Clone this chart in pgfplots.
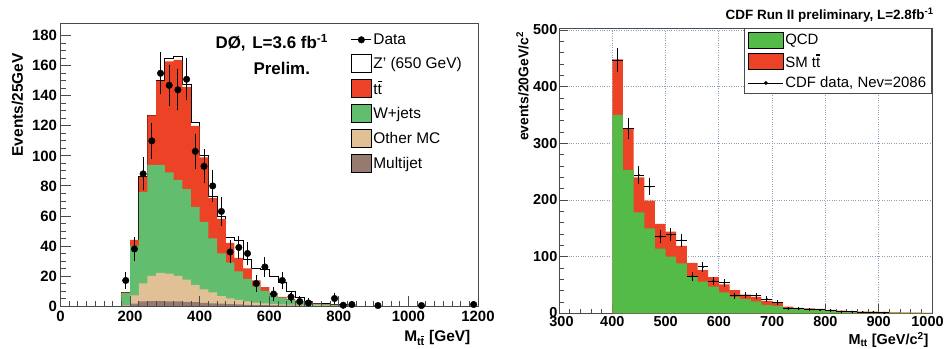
\documentclass[border=0pt]{standalone}
\usepackage{fontspec}
\setmainfont{Liberation Sans}
\usepackage{pgfplots}
\usepackage{pgfplotstable}
\pgfplotsset{compat=1.18}

\definecolor{ttred}{RGB}{236,66,38}
\definecolor{wgreen}{RGB}{98,190,110}
\definecolor{omctan}{RGB}{226,192,150}
\definecolor{mjbrown}{RGB}{150,122,112}
\definecolor{qcdgreen}{RGB}{84,186,72}
\definecolor{gridc}{RGB}{140,160,185}
\definecolor{framec}{RGB}{70,75,80}

\newcommand{\tbar}{\rlap{\hspace{0.01em}\raisebox{0.82em}{\rule{0.27em}{0.07em}}}t}

\pgfplotsset{
  lbox/.style={legend image code/.code={\draw[##1] (0bp,-9bp) rectangle (20bp,9bp);}},
  rbox/.style={legend image code/.code={\draw[##1] (0bp,-8bp) rectangle (35bp,8bp);}},
}

% D0 stack (cumulative tops), left bin edges, 25 GeV bins
\pgfplotstableread{
lo   mj   omc  wj   tt   zp
175  0.3  0.5  8.5  9    9
200  1.5  7    40   44   44
225  3    15   76   86   86
250  3.2  20   94   127  127
275  3.2  22   94   150  150
300  3    21.5 89   163  165
325  3    20   84   164  166
350  2.8  17.5 78   146  147.5
375  2.5  14   66   120  122
400  2    11   56   99   100
425  1.8  9    45   72   73
450  1.5  6.5  35   58   59.5
475  1.2  5    29   42   46
500  1    4    23   32   44
525  0.8  3    18   25   31
550  0.6  2.3  13   17   25
575  0.5  1.8  10   12.5 24.5
600  0.4  1.4  7.5  8.5  20
625  0.3  1.1  5.5  6    15.5
650  0.2  0.9  4    4.5  10
675  0.2  0.7  3    3.2  5.5
700  0.1  0.6  2    2.2  3
725  0.1  0.5  1.4  1.6  2
750  0.1  0.4  1    1.2  1.4
775  0.1  0.3  0.8  0.9  1
800  0.1  0.3  0.6  0.7  0.8
825  0.05 0.2  0.4  0.5  0.5
850  0    0    0    0    0
}\dzstack

\pgfplotstableread{
x      y    e
187.5  17   4.1
212.5  38   6.2
237.5  88   9.4
262.5  110  10.5
287.5  155  12.4
312.5  147  12.1
337.5  144  12
362.5  151  12.3
387.5  103  10.1
412.5  93   9.6
437.5  80   8.9
462.5  63   7.9
487.5  36   6
512.5  39   6.2
537.5  35   5.9
562.5  15   3.9
587.5  26   5.1
612.5  8    2.8
637.5  17   4.1
662.5  6    2.4
687.5  3    1.7
712.5  2    1.4
787.5  5    2.2
812.5  0.5  0.5
837.5  1    1
912.5  0.3  0.3
1037.5 0.3  0.3
1187.5 1    1
}\dzdata

% CDF stack, 20 GeV bins
\pgfplotstableread{
lo    qcd   tot
400   350   448
420   253   327
440   178   240
460   150   199
480   114   158
500   100   144
520   88    119
540   65    89
560   56    76
580   47    64
600   37    51
620   29    41
640   25    33
660   21    29
680   15    22
700   13    18
720   9     12
740   7.6   9.4
760   7     8.8
780   6.3   7.6
800   4.7   6
820   3.5   4.7
840   2.8   3.5
860   2.3   3
880   2     2.8
900   1.6   2.3
920   1.2   1.8
940   1     1.4
960   0.8   1.1
980   0.6   0.9
1000  0     0
}\cdfstack

\pgfplotstableread{
x    y    ex  ey
410  447  10  21
430  326  10  18
450  244  10  15.6
470  223  10  15
490  135  10  11.6
510  139  10  11.8
530  129  10  11.4
550  65   10  8
570  82   10  9
590  57   10  7.5
610  54   10  7.3
630  31   10  5.6
650  32   10  5.7
670  31   10  5.6
690  25   10  5
710  19   10  4.4
730  9    10  3
750  8    10  2.8
770  7    10  2.6
790  6    10  2.4
810  5    10  2.2
830  3    10  1.7
850  3    10  1.7
870  2    10  1.4
890  2    10  1.4
910  1    10  1
}\cdfdata

\begin{document}
\begin{tikzpicture}
% ---------------- Left: D0 ----------------
\begin{axis}[
  at={(60.5bp,43bp)}, anchor=south west,
  width=417.5bp, height=283bp, scale only axis,
  xmin=0, xmax=1200, ymin=0, ymax=188.5,
  xtick={0,200,...,1200}, ytick={0,20,...,180},
  minor x tick num=7, minor y tick num=3,
  tick pos=left, tick align=inside,
  major tick length=10bp, minor tick length=5bp,
  tick style={framec, line width=0.8pt},
  axis line style={framec, line width=0.9pt},
  axis on top,
  /pgf/number format/assume math mode=true,
  /pgf/number format/1000 sep={},
  tick label style={font=\bfseries\fontsize{15}{15}\selectfont},
  xticklabel style={yshift=-2bp},
  xlabel={M\textsubscript{t\tbar} [GeV]},
  xlabel style={at={(rel axis cs:0.99,-0.113)}, anchor=east, font=\bfseries\fontsize{15.5}{16}\selectfont},
  ylabel={Events/25GeV},
  ylabel style={at={(rel axis cs:-0.103,0.905)}, anchor=east, font=\bfseries\fontsize{15.5}{16}\selectfont},
  legend cell align=left,
  legend style={at={(rel axis cs:0.695,0.968)}, anchor=north west, draw=none, fill=none,
    font=\fontsize{15.5}{16}\selectfont, row sep=6.5bp, inner sep=0pt,
    nodes={inner sep=1.5bp}},
]
\addlegendimage{legend image code/.code={\draw[black, line width=1pt] (0bp,0bp) -- (20bp,0bp); \fill[black] (10bp,0bp) circle (3.3bp);}}
\addlegendentry{Data}
\addlegendimage{lbox, draw=black, fill=white, line width=1pt}
\addlegendentry{Z' (650 GeV)}
\addlegendimage{lbox, draw=none, fill=ttred}
\addlegendentry{t\tbar}
\addlegendimage{lbox, draw=none, fill=wgreen}
\addlegendentry{W+jets}
\addlegendimage{lbox, draw=none, fill=omctan}
\addlegendentry{Other MC}
\addlegendimage{lbox, draw=none, fill=mjbrown}
\addlegendentry{Multijet}

\addplot[forget plot, const plot mark left, fill=white, draw=black, line width=0.8pt] table[x=lo, y=zp]{\dzstack} \closedcycle;
\addplot[forget plot, const plot mark left, fill=ttred, draw=none] table[x=lo, y=tt]{\dzstack} \closedcycle;
\addplot[forget plot, const plot mark left, fill=wgreen, draw=none] table[x=lo, y=wj]{\dzstack} \closedcycle;
\addplot[forget plot, const plot mark left, fill=omctan, draw=none] table[x=lo, y=omc]{\dzstack} \closedcycle;
\addplot[forget plot, const plot mark left, fill=mjbrown, draw=none] table[x=lo, y=mj]{\dzstack} \closedcycle;
\addplot[forget plot, only marks, mark=*, mark size=3.3pt, black,
  error bars/.cd, y dir=both, y explicit, error mark=-,
  error mark options={black, mark size=2.5pt, line width=0.9pt},
  error bar style={black, line width=1pt}]
  table[x=x, y=y, y error=e]{\dzdata};
\end{axis}

% ---------------- Right: CDF ----------------
\begin{axis}[
  at={(559bp,35.7bp)}, anchor=south west,
  width=373bp, height=285bp, scale only axis,
  xmin=300, xmax=1000, ymin=0, ymax=503,
  xtick={300,400,...,1000}, ytick={0,100,...,500},
  xticklabels={{\hspace*{5bp}300},400,500,600,700,800,900,{\hspace*{-9bp}1000}},
  yticklabels={{\raisebox{2bp}{0}},100,200,300,400,500},
  minor x tick num=4, minor y tick num=4,
  tick pos=left, tick align=inside,
  major tick length=9bp, minor tick length=4.5bp,
  tick style={framec, line width=0.8pt},
  axis line style={framec, line width=0.9pt},
  grid=major, major grid style={dotted, gridc, line width=0.8pt},
  /pgf/number format/assume math mode=true,
  /pgf/number format/1000 sep={},
  tick label style={font=\bfseries\fontsize{14.5}{15}\selectfont},
  yticklabel style={inner xsep=1.5bp},
  xticklabel style={inner ysep=3bp},
  xlabel={M\textsubscript{tt} [GeV/c\textsuperscript{2}]},
  xlabel style={at={(rel axis cs:1,-0.094)}, anchor=east, font=\bfseries\fontsize{14.5}{15}\selectfont},
  ylabel={events/20GeV/c\textsuperscript{2}},
  ylabel style={at={(rel axis cs:-0.098,1.0)}, anchor=east, font=\bfseries\fontsize{14}{15}\selectfont},
  legend cell align=left,
  legend style={at={(rel axis cs:1,1)}, anchor=north east, draw=framec, line width=0.8pt, fill=white,
    font=\fontsize{15}{16}\selectfont, row sep=4.5bp, inner xsep=4bp, inner ysep=3bp,
    nodes={inner sep=1.5bp}},
]
\addlegendimage{rbox, draw=none, fill=qcdgreen}
\addlegendentry{QCD}
\addlegendimage{rbox, draw=none, fill=ttred}
\addlegendentry{SM t\tbar}
\addlegendimage{legend image code/.code={\draw[black, line width=0.8pt] (0bp,0bp) -- (35bp,0bp); \fill[black] (17.5bp,0bp) circle (1.4bp);}}
\addlegendentry{CDF data, Nev=2086}

\addplot[forget plot, const plot mark left, fill=ttred, draw=none] table[x=lo, y=tot]{\cdfstack} \closedcycle;
\addplot[forget plot, const plot mark left, fill=qcdgreen, draw=none] table[x=lo, y=qcd]{\cdfstack} \closedcycle;
\addplot[forget plot, only marks, mark=*, mark size=0.8pt, black,
  error bars/.cd, x dir=both, x explicit, y dir=both, y explicit, error mark=none,
  error bar style={black, line width=0.9pt}]
  table[x=x, y=y, x error=ex, y error=ey]{\cdfdata};
\end{axis}

\node[anchor=west, font=\bfseries\fontsize{17}{18}\selectfont] at (212bp,306bp) {DØ,\hspace{0.4em}L=3.6 fb\textsuperscript{-1}};
\node[anchor=west, font=\bfseries\fontsize{17}{18}\selectfont] at (250bp,281bp) {Prelim.};
\node[anchor=east, font=\bfseries\fontsize{13.5}{14}\selectfont] at (937bp,334bp) {CDF Run II preliminary, L=2.8fb\textsuperscript{-1}};

\pgfresetboundingbox
\path[use as bounding box] (0,0) rectangle (946bp,349bp);
\end{tikzpicture}
\end{document}
